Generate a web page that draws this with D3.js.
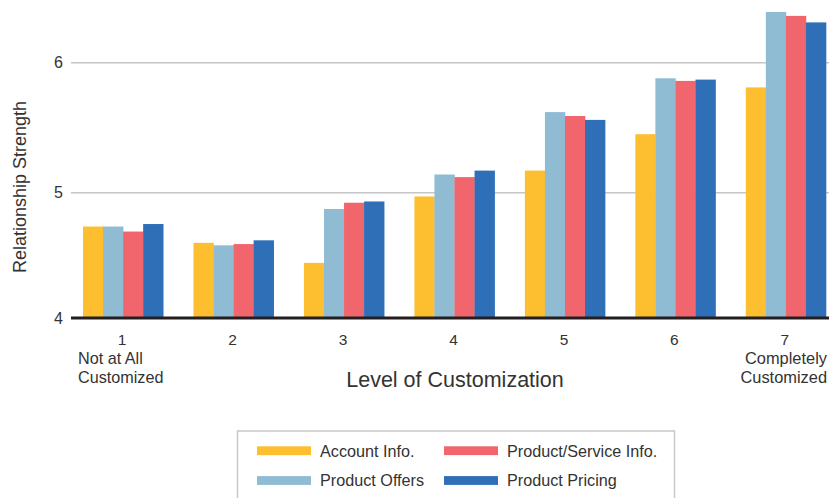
<!DOCTYPE html>
<html>
<head>
<meta charset="utf-8">
<script src="https://cdn.jsdelivr.net/npm/d3@7"></script>
<style>
  html, body { margin: 0; padding: 0; background: #fff; }
  svg { display: block; font-family: "Liberation Sans", Arial, Helvetica, sans-serif; }
</style>
</head>
<body>
<svg id="chart" width="839" height="498"></svg>
<script>
// ---- data ----
const categories = ["1", "2", "3", "4", "5", "6", "7"];
const seriesNames = ["Account Info.", "Product Offers", "Product/Service Info.", "Product Pricing"];
const seriesColors = ["#FDBF2F", "#8FBBD3", "#F0666C", "#2F6FB8"];
const accountInfo        = [4.73, 4.60, 4.44, 4.97, 5.17, 5.45, 5.81];
const productOffers      = [4.73, 4.58, 4.87, 5.14, 5.62, 5.88, 6.39];
const productServiceInfo = [4.69, 4.59, 4.92, 5.12, 5.59, 5.86, 6.36];
const productPricing     = [4.75, 4.62, 4.93, 5.17, 5.56, 5.87, 6.31];
const seriesValues = [accountInfo, productOffers, productServiceInfo, productPricing];
const yTicks = [4, 5, 6];
const leftEndLabel = ["Not at All", "Customized"];
const rightEndLabel = ["Completely", "Customized"];
const xTitle = "Level of Customization";
const yTitle = "Relationship Strength";
// legend order as shown (row-major)
const legendOrder = [0, 2, 1, 3];

// ---- layout ----
const svg = d3.select("#chart");
const axisLeft = 71, axisRight = 829;

const x0 = d3.scaleBand().domain(categories).range([83, 826]).paddingInner(0.274).paddingOuter(0);
const x1 = d3.scaleBand().domain(d3.range(seriesNames.length)).range([0, x0.bandwidth()]).padding(0);
const y = d3.scaleLinear().domain([4, 5, 6]).range([318, 192.7, 62.7]);

// gridlines
svg.append("g").selectAll("line")
  .data(yTicks.filter(t => t > 4))
  .join("line")
  .attr("x1", axisLeft).attr("x2", axisRight)
  .attr("y1", d => y(d)).attr("y2", d => y(d))
  .attr("stroke", "#c6c6c8").attr("stroke-width", 1.6);

// bars
const groups = svg.append("g").selectAll("g")
  .data(categories)
  .join("g")
  .attr("transform", d => `translate(${x0(d)},0)`);

groups.selectAll("rect")
  .data((c, ci) => seriesValues.map((vals, si) => ({ si, v: vals[ci] })))
  .join("rect")
  .attr("x", d => x1(d.si))
  .attr("width", x1.bandwidth() + 0.3)
  .attr("y", d => y(d.v))
  .attr("height", d => y(4) - y(d.v))
  .attr("fill", d => seriesColors[d.si]);

// baseline
svg.append("line")
  .attr("x1", axisLeft).attr("x2", axisRight)
  .attr("y1", y(4)).attr("y2", y(4))
  .attr("stroke", "#231f20").attr("stroke-width", 3);

// y tick labels
svg.append("g").selectAll("text")
  .data(yTicks)
  .join("text")
  .attr("x", 63).attr("y", d => y(d))
  .attr("dy", "0.36em")
  .attr("text-anchor", "end")
  .attr("font-size", 16)
  .attr("fill", "#333")
  .text(d => d);

// x tick labels
svg.append("g").selectAll("text")
  .data(categories)
  .join("text")
  .attr("x", d => x0(d) + x0.bandwidth() / 2 - 1)
  .attr("y", 345)
  .attr("text-anchor", "middle")
  .attr("font-size", 15.5)
  .attr("fill", "#333")
  .text(d => d);

// end labels
svg.append("text")
  .attr("font-size", 16.2).attr("fill", "#333")
  .selectAll("tspan").data(leftEndLabel).join("tspan")
  .attr("x", 78).attr("y", (d, i) => 364 + i * 19).text(d => d);

svg.append("text")
  .attr("text-anchor", "end").attr("font-size", 16.4).attr("fill", "#333")
  .selectAll("tspan").data(rightEndLabel).join("tspan")
  .attr("x", 827).attr("y", (d, i) => 364 + i * 19).text(d => d);

// axis titles
svg.append("text")
  .attr("x", 455).attr("y", 387)
  .attr("text-anchor", "middle")
  .attr("font-size", 21.5)
  .attr("fill", "#333")
  .text(xTitle);

svg.append("text")
  .attr("transform", "translate(26,187) rotate(-90)")
  .attr("text-anchor", "middle")
  .attr("font-size", 18)
  .attr("fill", "#333")
  .text(yTitle);

// legend
const legend = svg.append("g");
legend.append("rect")
  .attr("x", 237.5).attr("y", 431)
  .attr("width", 437).attr("height", 80)
  .attr("fill", "none").attr("stroke", "#c8c8ca").attr("stroke-width", 1.5);

const legX = [257, 444], legY = [450.7, 480.5];
const items = legend.selectAll("g.item")
  .data(legendOrder)
  .join("g").attr("class", "item")
  .attr("transform", (si, i) => `translate(${legX[i % 2]},${legY[Math.floor(i / 2)]})`);
items.append("rect")
  .attr("x", 0).attr("y", -4.4).attr("width", 54).attr("height", 8.8)
  .attr("fill", si => seriesColors[si]);
items.append("text")
  .attr("x", 63).attr("y", 0).attr("dy", "0.36em")
  .attr("font-size", 16.2).attr("fill", "#333")
  .text(si => seriesNames[si]);
</script>
</body>
</html>
